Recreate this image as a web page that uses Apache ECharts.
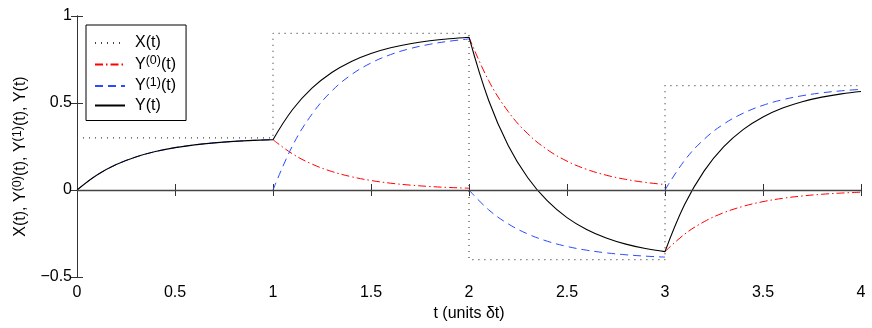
<!DOCTYPE html>
<html>
<head>
<meta charset="utf-8">
<script src="https://cdn.jsdelivr.net/npm/echarts@6/dist/echarts.min.js"></script>
<style>
  html, body { margin: 0; padding: 0; background: #fff; }
  #chart { width: 872px; height: 328px; }
</style>
</head>
<body>
<div id="chart"></div>
<script>
// 每段起点 (t)，每段内采样步长 0.1
var segStarts = [0, 1, 2, 3];
var sampleStep = 0.1;
var tEnd = 4;

// X(t) 阶梯输入
var xLevels = [0.3, 0.9, -0.4, 0.6];

// Y(0)(t)，第一段图中未画出 (null)
var y0Values = [
    [null, null, null, null, null, null, null, null, null, null, null],
    [0.2893, 0.2073, 0.1485, 0.1064, 0.0763, 0.0546, 0.0391, 0.0281, 0.0201, 0.0144, 0.0103],
    [0.8782, 0.6292, 0.4509, 0.3231, 0.2315, 0.1659, 0.1188, 0.0852, 0.0610, 0.0437, 0.0314],
    [-0.3543, -0.2539, -0.1819, -0.1303, -0.0934, -0.0669, -0.0479, -0.0344, -0.0246, -0.0176, -0.0126]
];

// Y(1)(t)
var y1Values = [
    [0, 0.0851, 0.1460, 0.1896, 0.2209, 0.2433, 0.2594, 0.2709, 0.2792, 0.2851, 0.2893],
    [0, 0.2552, 0.4379, 0.5689, 0.6628, 0.7300, 0.7782, 0.8127, 0.8375, 0.8552, 0.8679],
    [0, -0.1134, -0.1946, -0.2528, -0.2946, -0.3244, -0.3459, -0.3612, -0.3722, -0.3801, -0.3857],
    [0, 0.1701, 0.2920, 0.3793, 0.4418, 0.4867, 0.5188, 0.5418, 0.5583, 0.5701, 0.5786]
];

// Y(t)
var yValues = [
    [0, 0.0851, 0.1460, 0.1896, 0.2209, 0.2433, 0.2594, 0.2709, 0.2792, 0.2851, 0.2893],
    [0.2893, 0.4625, 0.5864, 0.6753, 0.7391, 0.7846, 0.8173, 0.8408, 0.8576, 0.8696, 0.8782],
    [0.8782, 0.5158, 0.2563, 0.0703, -0.0631, -0.1585, -0.2271, -0.2760, -0.3112, -0.3364, -0.3543],
    [-0.3543, -0.0838, 0.1101, 0.2490, 0.3484, 0.4198, 0.4709, 0.5074, 0.5337, 0.5525, 0.5660]
];

var xTicks = { min: 0, max: 4, interval: 0.5 };
var yTicks = { min: -0.5, max: 1, interval: 0.5 };

var fontFamily = '"Liberation Sans", Arial, Helvetica, sans-serif';

// 分段数据，段与段之间断开
function buildSegments(values) {
    var out = [];
    values.forEach(function (seg, s) {
        seg.forEach(function (v, i) {
            out.push([+(segStarts[s] + i * sampleStep).toFixed(2), v === null ? '-' : v]);
        });
        if (s < values.length - 1) {
            out.push([segStarts[s + 1], '-']);
        }
    });
    return out;
}

function buildSteps() {
    var out = segStarts.map(function (t, s) {
        return [t, xLevels[s]];
    });
    out.push([tEnd, xLevels[xLevels.length - 1]]);
    return out;
}

var richText = {
    n: { fontSize: 16, lineHeight: 20, fontFamily: fontFamily, color: '#000' },
    sup: { fontSize: 12.5, lineHeight: 11, verticalAlign: 'top', fontFamily: fontFamily, color: '#000' }
};

var legendNames = {
    'X(t)': '{n|X(t)}',
    'Y0': '{n|Y}{sup|(0)}{n|(t)}',
    'Y1': '{n|Y}{sup|(1)}{n|(t)}',
    'Y(t)': '{n|Y(t)}'
};

var axisColor = '#333';

var chart = echarts.init(document.getElementById('chart'));

var option = {
    animation: false,
    backgroundColor: '#fff',
    textStyle: { fontFamily: fontFamily },
    grid: {
        left: 77,
        right: 11,
        top: 16,
        bottom: 51,
        containLabel: false,
        outerBoundsMode: 'none'
    },
    legend: {
        orient: 'vertical',
        left: 86,
        top: 25,
        data: ['X(t)', 'Y0', 'Y1', 'Y(t)'],
        backgroundColor: '#fff',
        borderColor: '#000',
        borderWidth: 1,
        borderRadius: 0,
        padding: [10, 10, 7, 8],
        itemWidth: 30,
        itemHeight: 14,
        itemGap: 3.5,
        itemStyle: { opacity: 0 },
        formatter: function (name) {
            return legendNames[name];
        },
        textStyle: { rich: richText, padding: [0, 0, 0, 5] }
    },
    xAxis: [
        {
            type: 'value',
            min: xTicks.min,
            max: xTicks.max,
            interval: xTicks.interval,
            name: 't (units δt)',
            nameLocation: 'middle',
            nameGap: 27,
            nameTextStyle: { fontSize: 16, color: '#000', fontFamily: fontFamily },
            axisLine: { lineStyle: { color: axisColor, width: 1 } },
            axisTick: { inside: true, length: 6, lineStyle: { color: axisColor } },
            axisLabel: { fontSize: 16, color: '#000', margin: 8, fontFamily: fontFamily },
            splitLine: { show: false }
        },
        {
            type: 'value',
            position: 'top',
            min: xTicks.min,
            max: xTicks.max,
            interval: xTicks.interval,
            axisLine: { lineStyle: { color: axisColor, width: 1 } },
            axisTick: { inside: true, length: 6, lineStyle: { color: axisColor } },
            axisLabel: { show: false },
            splitLine: { show: false }
        }
    ],
    yAxis: [
        {
            type: 'value',
            min: yTicks.min,
            max: yTicks.max,
            interval: yTicks.interval,
            name: '{n|X(t), Y}{sup|(0)}{n|(t), Y}{sup|(1)}{n|(t), Y(t)}',
            nameLocation: 'middle',
            nameRotate: 90,
            nameGap: 46,
            nameTextStyle: { rich: richText, padding: [0, 20, 0, 0] },
            axisLine: { lineStyle: { color: axisColor, width: 1 } },
            axisTick: { inside: true, length: 6, lineStyle: { color: axisColor } },
            axisLabel: {
                fontSize: 16,
                color: '#000',
                margin: 5,
                fontFamily: fontFamily,
                formatter: function (v) {
                    return String(v).replace('-', '\u2212');
                }
            },
            splitLine: { show: false }
        },
        {
            type: 'value',
            position: 'right',
            min: yTicks.min,
            max: yTicks.max,
            interval: yTicks.interval,
            axisLine: { lineStyle: { color: axisColor, width: 1 } },
            axisTick: { inside: true, length: 6, lineStyle: { color: axisColor } },
            axisLabel: { show: false },
            splitLine: { show: false }
        }
    ],
    series: [
        {
            name: 'X(t)',
            type: 'line',
            step: 'end',
            symbol: 'none',
            data: buildSteps(),
            lineStyle: { color: '#444', width: 1.2, type: [1, 5] },
            itemStyle: { color: '#444' }
        },
        {
            name: 'Y0',
            type: 'line',
            symbol: 'none',
            smooth: 0.4,
            connectNulls: false,
            data: buildSegments(y0Values),
            lineStyle: { color: '#ff0000', width: 1, type: [8, 3, 1.5, 3] },
            itemStyle: { color: '#ff0000' }
        },
        {
            name: 'Y1',
            type: 'line',
            symbol: 'none',
            smooth: 0.4,
            connectNulls: false,
            data: buildSegments(y1Values),
            lineStyle: { color: '#2a4bff', width: 1, type: [8, 5] },
            itemStyle: { color: '#2a4bff' }
        },
        {
            name: 'zero',
            type: 'line',
            symbol: 'none',
            z: 3,
            data: [],
            markLine: {
                silent: true,
                symbol: 'none',
                label: { show: false },
                lineStyle: { color: '#444', width: 1.4, type: 'solid' },
                data: [{ yAxis: 0 }]
            }
        },
        {
            name: 'Y(t)',
            type: 'line',
            symbol: 'none',
            smooth: 0.4,
            z: 4,
            connectNulls: false,
            data: buildSegments(yValues),
            lineStyle: { color: '#000', width: 1.1 },
            itemStyle: { color: '#000' }
        }
    ]
};

chart.setOption(option);
</script>
</body>
</html>
